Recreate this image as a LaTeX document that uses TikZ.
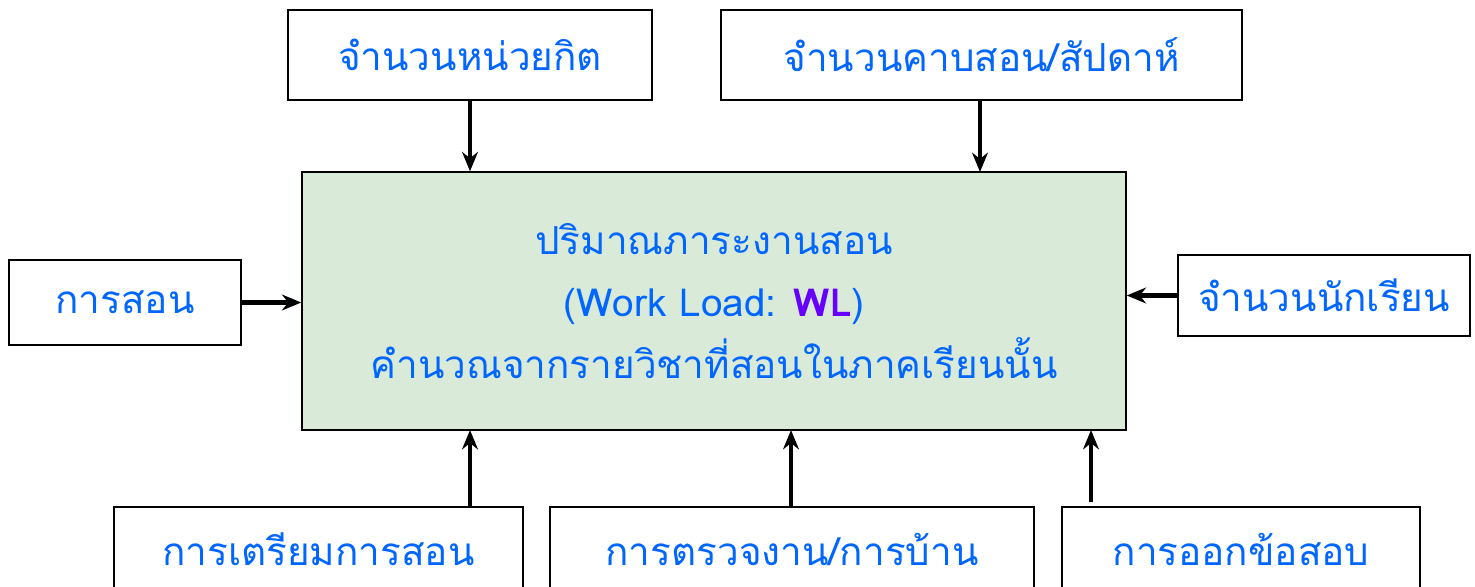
\documentclass[tikz,border=0pt]{standalone}
\usepackage{fontspec}
\setmainfont[Script=Thai]{Loma}
\usetikzlibrary{arrows.meta}
\definecolor{txtblue}{HTML}{0066FF}
\definecolor{wlpurple}{HTML}{6600FF}
\definecolor{boxgreen}{HTML}{D9EAD8}
\begin{document}
\begin{tikzpicture}[x=0.02cm,y=-0.02cm]
      \useasboundingbox (0,0) rectangle (1475,587);
      \begin{scope}[every node/.style={rectangle, draw, thick, text=txtblue, font=\fontsize{22}{35.5}\selectfont, inner sep=0pt}]
        \node [fill=boxgreen, minimum width=824*0.02cm, minimum height=258*0.02cm, align=center] (0) at (714,301) {ปริมาณภาระงานสอน\\(Work Load: \textcolor{wlpurple}{\textbf{WL}})\\คำนวณจากรายวิชาที่สอนในภาคเรียนนั้น};
        \node [minimum width=364*0.02cm, minimum height=90*0.02cm] (1) at (470,55) {จำนวนหน่วยกิต};
        \node [minimum width=521*0.02cm, minimum height=90*0.02cm] (2) at (981.5,55) {จำนวนคาบสอน/สัปดาห์};
        \node [minimum width=232*0.02cm, minimum height=85*0.02cm] (3) at (125,302.5) {การสอน};
        \node [minimum width=292*0.02cm, minimum height=81*0.02cm] (4) at (1324,295.5) {จำนวนนักเรียน};
        \node [minimum width=409*0.02cm, minimum height=84*0.02cm] (5) at (318.5,549) {การเตรียมการสอน};
        \node [minimum width=484*0.02cm, minimum height=84*0.02cm] (6) at (792,549) {การตรวจงาน/การบ้าน};
        \node [minimum width=358*0.02cm, minimum height=84*0.02cm] (7) at (1241,549) {การออกข้อสอบ};
      \end{scope}

      \begin{scope}[->,>={Stealth[length=11pt,width=9pt]}, line width=2.6pt]
        \draw (1.south) to (0.north -| 1.south);
        \draw (980,100) to (980,172);
        \draw (3.east) to (3.east -| 0.west);
        \draw (4.west) to (4.west -| 0.east);
        \draw (470,507) to (470,430);
        \draw (791,507) to (791,430);
        \draw (1091,502) to (1091,430);
      \end{scope}
   \end{tikzpicture}
\end{document}
